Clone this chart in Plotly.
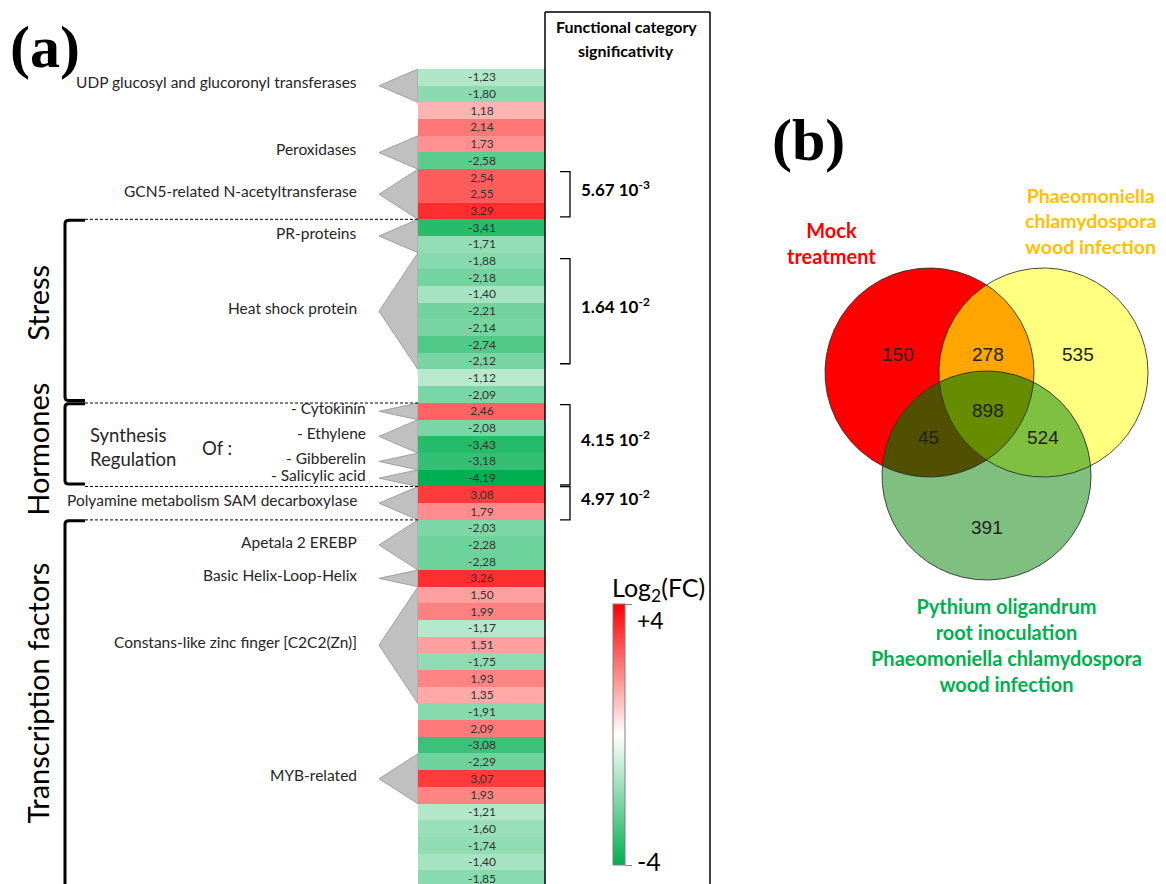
import numpy as np
import plotly.graph_objects as go

W, H = 1166, 884

# ---------------- data ----------------
# log2 fold change of the differentially expressed genes, top to bottom
log2fc = [-1.23, -1.80, 1.18, 2.14, 1.73, -2.58, 2.54, 2.55, 3.29, -3.41,
          -1.71, -1.88, -2.18, -1.40, -2.21, -2.14, -2.74, -2.12, -1.12, -2.09,
          2.46, -2.08, -3.43, -3.18, -4.19, 3.08, 1.79, -2.03, -2.28, -2.28,
          3.26, 1.50, 1.99, -1.17, 1.51, -1.75, 1.93, 1.35, -1.91, 2.09,
          -3.08, -2.29, 3.07, 1.93, -1.21, -1.60, -1.74, -1.40, -1.85]

# gene families (first row, last row)
family_labels = ["UDP glucosyl and glucoronyl transferases", "Peroxidases",
                 "GCN5-related N-acetyltransferase", "PR-proteins", "Heat shock protein",
                 "- Cytokinin", "- Ethylene", "- Gibberelin", "- Salicylic acid",
                 "Polyamine metabolism SAM decarboxylase", "Apetala 2 EREBP",
                 "Basic Helix-Loop-Helix", "Constans-like zinc finger [C2C2(Zn)]",
                 "MYB-related"]
family_first = [0, 4, 6, 9, 11, 20, 21, 23, 24, 25, 27, 30, 31, 41]
family_last = [1, 5, 8, 10, 17, 20, 22, 23, 24, 26, 29, 30, 37, 43]

# functional categories (first row, last row)
category_labels = ["Stress", "Hormones", "Transcription factors"]
category_first = [9, 20, 27]
category_last = [19, 24, 49]

# functional category significance (p-value) and rows covered
sig_labels = ["5.67 10<sup>-3</sup>", "1.64 10<sup>-2</sup>",
              "4.15 10<sup>-2</sup>", "4.97 10<sup>-2</sup>"]
sig_first = [6, 11, 20, 25]
sig_last = [8, 17, 24, 26]

# Venn diagram region counts
venn_counts = {"M": 150, "MP": 278, "P": 535, "MPO": 898,
               "MO": 45, "PO": 524, "O": 391}

# ---------------- layout constants ----------------
ROW_PX = 16.7
TOP_PX = 69
HEAT_X0, HEAT_X1 = 418, 545
APEX_X = 379
FONT = "Lato"
TXT = "#262626"

n_rows = len(log2fc)
cell_text = [f"{v:.2f}".replace(".", ",") for v in log2fc]
y_bottom = (H - TOP_PX) / ROW_PX - 0.5

colorscale = [[0.0, "rgb(0,176,80)"], [0.5, "rgb(255,255,255)"], [1.0, "rgb(255,0,0)"]]

fig = go.Figure()

fig.add_trace(go.Heatmap(
    z=[[v] for v in log2fc], x=[0], y=list(range(n_rows)),
    text=[[t] for t in cell_text], texttemplate="%{text}",
    textfont=dict(family=FONT, size=12, color="#333333"),
    zmin=-4, zmax=4, colorscale=colorscale,
    hoverinfo="skip",
    colorbar=dict(
        x=613 / W, xanchor="left", xpad=0, ypad=0,
        y=1 - 734.5 / H, yanchor="middle", len=261 / H, lenmode="fraction",
        thickness=12, thicknessmode="pixels",
        outlinewidth=1, outlinecolor="#808080",
        tickvals=[-4, 4], ticks="outside", ticklen=7, tickcolor="#808080",
        showticklabels=False,
    ),
))

# ---------------- Venn diagram ----------------
circles = {"M": (929.5, 372.5), "P": (1043.5, 372.5), "O": (986.5, 475.5)}
R = 104.5
region_colors = {"M": "#ff0000", "P": "#ffff80", "O": "#7fbf7f",
                 "MP": "#ffa500", "MO": "#505000", "PO": "#80c040", "MPO": "#668c00"}


def circle_xy(c, n=721):
    t = np.linspace(0, 2 * np.pi, n)
    return c[0] + R * np.cos(t), c[1] + R * np.sin(t)


def intersection_xy(keys):
    pts = []
    for k in keys:
        xs, ys = circle_xy(circles[k], 1441)
        ok = np.ones_like(xs, dtype=bool)
        for o in keys:
            if o != k:
                cx, cy = circles[o]
                ok &= (xs - cx) ** 2 + (ys - cy) ** 2 <= R ** 2 + 1e-6
        pts.append(np.c_[xs[ok], ys[ok]])
    pts = np.vstack(pts)
    c = pts.mean(axis=0)
    order = np.argsort(np.arctan2(pts[:, 1] - c[1], pts[:, 0] - c[0]))
    pts = pts[order]
    return np.r_[pts[:, 0], pts[0, 0]], np.r_[pts[:, 1], pts[0, 1]]


for key in ["M", "P", "O", "MP", "MO", "PO", "MPO"]:
    if len(key) == 1:
        xs, ys = circle_xy(circles[key])
    else:
        xs, ys = intersection_xy(list(key))
    fig.add_trace(go.Scatter(x=xs, y=ys, xaxis="x2", yaxis="y2", mode="lines",
                             fill="toself", fillcolor=region_colors[key],
                             line=dict(width=0), hoverinfo="skip", showlegend=False))

for key in ["M", "P", "O"]:
    xs, ys = circle_xy(circles[key])
    fig.add_trace(go.Scatter(x=xs, y=ys, xaxis="x2", yaxis="y2", mode="lines",
                             line=dict(width=1, color="rgba(40,40,40,0.85)"),
                             hoverinfo="skip", showlegend=False))

count_pos = {"M": (898, 354), "MP": (988, 354), "P": (1078, 354), "MPO": (988, 410),
             "MO": (928, 437), "PO": (1043, 437), "O": (987, 527)}

ann = []
for key, n in venn_counts.items():
    px, py = count_pos[key]
    ann.append(dict(x=px, y=py, xref="x2", yref="y2", text=str(n), showarrow=False,
                    font=dict(family="Liberation Sans", size=19, color="#222222")))

# ---------------- gene family triangles and labels ----------------
shapes = []
for lab, a, b in zip(family_labels, family_first, family_last):
    y0, y1 = a - 0.5, b + 0.5
    ym = (y0 + y1) / 2
    shapes.append(dict(type="path", xref="x2", yref="y",
                       path=f"M {HEAT_X0},{y0} L {APEX_X},{ym} L {HEAT_X0},{y1} Z",
                       fillcolor="#c0c0c0", line=dict(color="#a0a0a0", width=1),
                       layer="below"))
    sub = lab.startswith("- ")
    ann.append(dict(x=368 if sub else 359, y=ym - 0.2, xref="x2", yref="y",
                    xanchor="right", yanchor="middle", text=lab, showarrow=False,
                    font=dict(family=FONT, size=15.5, color=TXT)))

# hormone synthesis/regulation caption
ann += [
    dict(x=88, y=435, xref="x2", yref="y2", xanchor="left", text="Synthesis",
         showarrow=False, font=dict(family=FONT, size=18.5, color=TXT)),
    dict(x=88, y=459, xref="x2", yref="y2", xanchor="left", text="Regulation",
         showarrow=False, font=dict(family=FONT, size=18.5, color=TXT)),
    dict(x=200, y=448, xref="x2", yref="y2", xanchor="left", text="Of :",
         showarrow=False, font=dict(family=FONT, size=18.5, color=TXT)),
]

# ---------------- functional category brackets ----------------
cat_text_row = [13.5, 22.3, 36.9]
for lab, a, b, tr in zip(category_labels, category_first, category_last, cat_text_row):
    y0 = a - 0.5 + 0.05
    y1 = b + 0.5 - 0.15
    shapes.append(dict(type="path", xref="x2", yref="y",
                       path=f"M 85,{y0} L 69,{y0} Q 65,{y0} 65,{y0 + 0.2} "
                            f"L 65,{y1 - 0.2} Q 65,{y1} 69,{y1} L 85,{y1}",
                       line=dict(color="black", width=3)))
    ann.append(dict(x=38, y=tr, xref="x2", yref="y", text=lab, textangle=-90,
                    showarrow=False, font=dict(family=FONT, size=29, color="black")))

# dashed separators
for edge in [8.5, 19.5, 24.5, 26.5]:
    shapes.append(dict(type="line", xref="x2", yref="y", x0=85, x1=HEAT_X0,
                       y0=edge, y1=edge, line=dict(color="black", width=1, dash="3px,2px")))

# ---------------- significance column ----------------
shapes += [
    dict(type="line", xref="x2", yref="y2", x0=545, x1=545, y0=12, y1=H,
         line=dict(color="black", width=1.5)),
    dict(type="line", xref="x2", yref="y2", x0=545, x1=710, y0=12, y1=12,
         line=dict(color="black", width=1.5)),
    dict(type="line", xref="x2", yref="y2", x0=710, x1=710, y0=12, y1=H,
         line=dict(color="black", width=1.5)),
]
ann += [
    dict(x=626, y=26, xref="x2", yref="y2", showarrow=False,
         text="<b>Functional category</b>",
         font=dict(family=FONT, size=16, color="black")),
    dict(x=626, y=50, xref="x2", yref="y2", showarrow=False,
         text="<b>significativity</b>",
         font=dict(family=FONT, size=16, color="black")),
]

sig_inset = [0.15, 0.35, 0.1, 0.0]
for lab, a, b, ins in zip(sig_labels, sig_first, sig_last, sig_inset):
    y0 = a - 0.5 + ins
    y1 = b + 0.5 - ins
    shapes.append(dict(type="path", xref="x2", yref="y",
                       path=f"M 560,{y0} L 570,{y0} L 570,{y1} L 560,{y1}",
                       line=dict(color="black", width=1.3)))
    ann.append(dict(x=579, y=(y0 + y1) / 2 - 0.35, xref="x2", yref="y", xanchor="left",
                    text=f"<b>{lab}</b>", showarrow=False,
                    font=dict(family=FONT, size=17, color="black")))

# colour bar captions
ann += [
    dict(x=610, y=589, xref="x2", yref="y2", xanchor="left", text="Log<sub>2</sub>(FC)",
         showarrow=False, font=dict(family=FONT, size=25, color="black")),
    dict(x=635, y=620, xref="x2", yref="y2", xanchor="left", text="+4",
         showarrow=False, font=dict(family=FONT, size=23, color="black")),
    dict(x=635, y=861, xref="x2", yref="y2", xanchor="left", text="-4",
         showarrow=False, font=dict(family=FONT, size=25, color="black")),
]

# panel letters and Venn set names
ann += [
    dict(x=45, y=47, xref="x2", yref="y2", text="<b>(a)</b>", showarrow=False,
         font=dict(family="Liberation Serif", size=60, color="black")),
    dict(x=808, y=140, xref="x2", yref="y2", text="<b>(b)</b>", showarrow=False,
         font=dict(family="Liberation Serif", size=60, color="black")),
    dict(x=831, y=243, xref="x2", yref="y2", text="<b>Mock<br>treatment</b>",
         showarrow=False, font=dict(family=FONT, size=20, color="#ff0000")),
    dict(x=1090, y=221, xref="x2", yref="y2",
         text="<b>Phaeomoniella<br>chlamydospora<br>wood infection</b>",
         showarrow=False, font=dict(family=FONT, size=19.5, color="#ffc000")),
    dict(x=1006, y=645, xref="x2", yref="y2",
         text="<b>Pythium oligandrum<br>root inoculation<br>Phaeomoniella chlamydospora<br>wood infection</b>",
         showarrow=False, font=dict(family=FONT, size=20, color="#00b050")),
]

fig.update_layout(
    width=W, height=H, margin=dict(l=0, r=0, t=0, b=0),
    paper_bgcolor="white", plot_bgcolor="rgba(0,0,0,0)",
    showlegend=False,
    xaxis=dict(domain=[HEAT_X0 / W, HEAT_X1 / W], range=[-0.5, 0.5], visible=False,
               fixedrange=True),
    yaxis=dict(domain=[0, 1 - TOP_PX / H], range=[y_bottom, -0.5], visible=False,
               fixedrange=True),
    xaxis2=dict(domain=[0, 1], range=[0, W], visible=False, anchor="y2", fixedrange=True),
    yaxis2=dict(domain=[0, 1], range=[H, 0], visible=False, anchor="x2", fixedrange=True),
    shapes=shapes, annotations=ann,
)

fig.write_html("out.html")
